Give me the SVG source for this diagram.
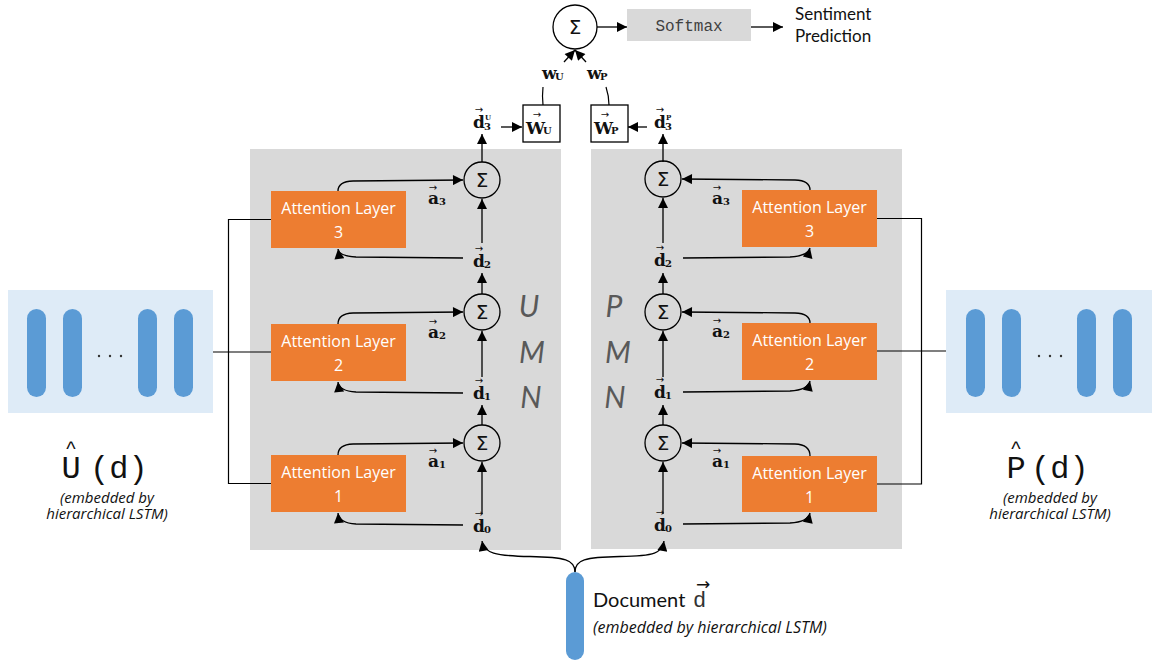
<svg xmlns="http://www.w3.org/2000/svg" width="1152" height="662" viewBox="0 0 1152 662">
  <style>
    .panel { fill: #D9D9D9; }
    .emb { fill: #DEEBF7; }
    .bar { fill: #5B9BD5; }
    .al { fill: #ED7D31; }
    .alt { fill: #FFFFFF; font-family: "Open Sans", Lato, sans-serif; font-size: 16px; text-anchor: middle; }
    .sig { fill: none; stroke: #000; stroke-width: 1.3; }
    .sigt { font-family: "DejaVu Sans", sans-serif; font-size: 20px; text-anchor: middle; fill: #111; }
    .v { font-family: "DejaVu Serif", serif; font-weight: bold; font-size: 17px; fill: #111; }
    .sub { font-family: "DejaVu Serif", serif; font-weight: bold; font-size: 10px; fill: #111; }
    .tiny { font-family: "DejaVu Serif", serif; font-weight: bold; font-size: 7px; fill: #111; }
    .vec { font-family: "DejaVu Sans", sans-serif; font-size: 10px; text-anchor: middle; fill: #111; }
    .cn { fill: none; stroke: #000; stroke-width: 1.3; }
    .ar { marker-end: url(#ah); }
    .ln { fill: none; stroke: #000; stroke-width: 1.2; }
    .mem { font-family: Lato, "Open Sans", sans-serif; font-style: italic; font-size: 30px; fill: #595959; text-anchor: middle; }
    .note { font-family: "Open Sans", Lato, sans-serif; font-style: italic; font-size: 15px; fill: #111; text-anchor: middle; }
    .big { font-family: "Liberation Mono", monospace; font-size: 32px; fill: #111; }
    .hat { font-family: "Liberation Sans", sans-serif; font-size: 20px; fill: #111; text-anchor: middle; }
    .box { fill: #FFFFFF; stroke: #000; stroke-width: 1.3; }
  </style>
  <defs>
    <marker id="ah" viewBox="0 0 10 10" refX="10" refY="5" markerUnits="userSpaceOnUse" markerWidth="11" markerHeight="10" orient="auto">
      <path d="M0,0 L10,5 L0,10 z" fill="#000"/>
    </marker>
  </defs>

  <rect width="1152" height="662" fill="#FFFFFF"/>

  <!-- memory network panels -->
  <g id="umn-panel">
    <rect class="panel" x="250" y="149" width="311" height="401"/>
    <text class="mem" x="529" y="317">U</text>
    <text class="mem" x="532" y="363">M</text>
    <text class="mem" x="531" y="408">N</text>
  </g>
  <g id="pmn-panel">
    <rect class="panel" x="591" y="149" width="311" height="400"/>
    <text class="mem" x="614" y="317">P</text>
    <text class="mem" x="618" y="363">M</text>
    <text class="mem" x="615" y="408">N</text>
  </g>

  <!-- connectors -->
  <g id="connectors">
    <!-- user embedding to left attention layers -->
    <path class="ln" d="M213,352 L271,352" stroke-width="1.6"/>
    <path class="ln" d="M271,219.5 L228.5,219.5 L228.5,483.5 L271,483.5"/>
    <!-- product embedding to right attention layers -->
    <path class="ln" d="M877,351 L946,351" stroke-width="1.6"/>
    <path class="ln" d="M877,218.5 L921.5,218.5 L921.5,484 L877,484"/>

    <!-- left hops -->
    <path class="cn ar" d="M338,191 Q338,181.5 353,181 L463,180"/>
    <path class="cn ar" d="M463,258 L356,257 Q339,256 338,249"/>
    <path class="cn ar" d="M482,243 L482,199"/>
    <path class="cn ar" d="M482,294 L482,273"/>
    <path class="cn ar" d="M338,324 Q338,313.5 353,313 L463,312"/>
    <path class="cn ar" d="M463,393 L356,392 Q339,391 338,382"/>
    <path class="cn ar" d="M482,377 L482,331"/>
    <path class="cn ar" d="M482,425 L482,405"/>
    <path class="cn ar" d="M338,455 Q338,444.5 353,444 L463,443"/>
    <path class="cn ar" d="M463,525 L356,524 Q339,523 338,513"/>
    <path class="cn ar" d="M482,514 L482,462"/>
    <path class="cn ar" d="M482,162 L482,134"/>

    <!-- right hops -->
    <path class="cn ar" d="M810,190 Q810,180.5 795,180 L682,179"/>
    <path class="cn ar" d="M683,258 L790,257 Q808,256 810,248"/>
    <path class="cn ar" d="M663,243 L663,198"/>
    <path class="cn ar" d="M663,294 L663,273"/>
    <path class="cn ar" d="M810,323 Q810,313.5 795,313 L682,312"/>
    <path class="cn ar" d="M683,392 L790,391 Q808,390 810,381"/>
    <path class="cn ar" d="M663,377 L663,331"/>
    <path class="cn ar" d="M663,425 L663,405"/>
    <path class="cn ar" d="M810,456 Q810,444.5 795,444 L682,443"/>
    <path class="cn ar" d="M683,524 L790,523 Q808,522 810,513"/>
    <path class="cn ar" d="M663,514 L663,462"/>
    <path class="cn ar" d="M663,162 L663,134"/>

    <!-- final memory vectors into weight boxes -->
    <path class="cn ar" d="M501,127 L522,127"/>
    <path class="cn ar" d="M647,127 L628,127"/>

    <!-- weights into output sum -->
    <path class="ln" d="M543,105 Q542,96 543,87"/>
    <path class="ln" d="M609,105 Q609,96 606,87"/>
    <path class="cn ar" d="M564,62 L575,50"/>
    <path class="cn ar" d="M586,62 L575,50"/>
    <path class="cn ar" d="M597,27 L627,27"/>
    <path class="cn ar" d="M751,27 L783,27"/>

    <!-- document vector into both networks -->
    <path class="cn ar" d="M575,572 C575,560 565,557 530,556.5 C495,556 484,553 482,541"/>
    <path class="cn ar" d="M575,572 C575,560 585,557 620,556.5 C655,556 662,553 664,541"/>
  </g>

  <!-- left attention layers -->
  <g id="u-att3"><rect class="al" x="271" y="191" width="135" height="57"/><text class="alt" x="338.5" y="214">Attention Layer</text><text class="alt" x="338.5" y="238">3</text></g>
  <g id="u-att2"><rect class="al" x="271" y="324" width="135" height="57"/><text class="alt" x="338.5" y="347">Attention Layer</text><text class="alt" x="338.5" y="371">2</text></g>
  <g id="u-att1"><rect class="al" x="271" y="455" width="135" height="57"/><text class="alt" x="338.5" y="478">Attention Layer</text><text class="alt" x="338.5" y="502">1</text></g>

  <!-- right attention layers -->
  <g id="p-att3"><rect class="al" x="742" y="190" width="135" height="57"/><text class="alt" x="809.5" y="213">Attention Layer</text><text class="alt" x="809.5" y="237">3</text></g>
  <g id="p-att2"><rect class="al" x="742" y="323" width="135" height="57"/><text class="alt" x="809.5" y="346">Attention Layer</text><text class="alt" x="809.5" y="370">2</text></g>
  <g id="p-att1"><rect class="al" x="742" y="456" width="135" height="56"/><text class="alt" x="809.5" y="479">Attention Layer</text><text class="alt" x="809.5" y="503">1</text></g>

  <!-- summation nodes -->
  <g id="u-sum3"><circle class="sig" cx="482" cy="180" r="18"/><text class="sigt" x="482" y="187">Σ</text></g>
  <g id="u-sum2"><circle class="sig" cx="482" cy="312" r="18"/><text class="sigt" x="482" y="319">Σ</text></g>
  <g id="u-sum1"><circle class="sig" cx="482" cy="443" r="18"/><text class="sigt" x="482" y="450">Σ</text></g>
  <g id="p-sum3"><circle class="sig" cx="663" cy="179" r="18"/><text class="sigt" x="663" y="186">Σ</text></g>
  <g id="p-sum2"><circle class="sig" cx="663" cy="312" r="18"/><text class="sigt" x="663" y="319">Σ</text></g>
  <g id="p-sum1"><circle class="sig" cx="663" cy="443" r="18"/><text class="sigt" x="663" y="450">Σ</text></g>

  <!-- left memory states -->
  <g id="u-d2"><text class="vec" x="479" y="252">→</text><text class="v" x="473" y="267">d</text><text class="sub" x="484" y="268">2</text></g>
  <g id="u-d1"><text class="vec" x="479" y="384">→</text><text class="v" x="473" y="399">d</text><text class="sub" x="484" y="400">1</text></g>
  <g id="u-d0"><text class="vec" x="479" y="517">→</text><text class="v" x="473" y="532">d</text><text class="sub" x="484" y="533">0</text></g>
  <g id="u-d3"><text class="vec" x="479" y="113">→</text><text class="v" x="473" y="128">d</text><text class="tiny" x="485" y="120">U</text><text class="sub" x="484" y="130">3</text></g>

  <!-- right memory states -->
  <g id="p-d2"><text class="vec" x="660" y="251">→</text><text class="v" x="654" y="266">d</text><text class="sub" x="665" y="267">2</text></g>
  <g id="p-d1"><text class="vec" x="660" y="383">→</text><text class="v" x="654" y="398">d</text><text class="sub" x="665" y="399">1</text></g>
  <g id="p-d0"><text class="vec" x="660" y="516">→</text><text class="v" x="654" y="531">d</text><text class="sub" x="665" y="532">0</text></g>
  <g id="p-d3"><text class="vec" x="660" y="113">→</text><text class="v" x="654" y="128">d</text><text class="tiny" x="666" y="120">P</text><text class="sub" x="665" y="130">3</text></g>

  <!-- attention outputs -->
  <g id="u-a3"><text class="vec" x="433" y="191">→</text><text class="v" x="428" y="204">a</text><text class="sub" x="439" y="205">3</text></g>
  <g id="u-a2"><text class="vec" x="433" y="325">→</text><text class="v" x="428" y="338">a</text><text class="sub" x="439" y="339">2</text></g>
  <g id="u-a1"><text class="vec" x="433" y="454">→</text><text class="v" x="428" y="467">a</text><text class="sub" x="439" y="468">1</text></g>
  <g id="p-a3"><text class="vec" x="717" y="191">→</text><text class="v" x="712" y="204">a</text><text class="sub" x="723" y="205">3</text></g>
  <g id="p-a2"><text class="vec" x="717" y="324">→</text><text class="v" x="712" y="337">a</text><text class="sub" x="723" y="338">2</text></g>
  <g id="p-a1"><text class="vec" x="717" y="454">→</text><text class="v" x="712" y="467">a</text><text class="sub" x="723" y="468">1</text></g>

  <!-- weight boxes -->
  <g id="w-u"><rect class="box" x="523" y="105" width="37" height="37"/><text class="vec" x="537" y="118">→</text><text class="v" x="526" y="134">W</text><text class="sub" x="543" y="134">U</text></g>
  <g id="w-p"><rect class="box" x="591" y="105" width="37" height="37"/><text class="vec" x="605" y="118">→</text><text class="v" x="594" y="134">W</text><text class="sub" x="611" y="134">P</text></g>
  <g id="w-u-label"><text class="v" x="542" y="79" font-size="15">w</text><text class="sub" x="555" y="80" font-size="9">U</text></g>
  <g id="w-p-label"><text class="v" x="587" y="79" font-size="15">w</text><text class="sub" x="600" y="80" font-size="9">P</text></g>

  <!-- output -->
  <g id="out-sum"><circle cx="575" cy="27" r="22" fill="#FFFFFF" stroke="#000" stroke-width="1.3"/><text class="sigt" x="575" y="34" font-size="21">Σ</text></g>
  <g id="softmax"><rect class="panel" x="627" y="9" width="124" height="32"/><text x="689" y="31" font-family="Liberation Mono, monospace" font-size="16" fill="#404040" text-anchor="middle">Softmax</text></g>
  <g id="prediction"><text x="795" y="20" font-family="Lato, sans-serif" font-size="17" fill="#111">Sentiment</text><text x="795" y="42" font-family="Lato, sans-serif" font-size="17" fill="#111">Prediction</text></g>

  <!-- user embeddings -->
  <g id="user-emb">
    <rect class="emb" x="8" y="290" width="205" height="123"/>
    <rect class="bar" x="27" y="309" width="19" height="88" rx="9.5"/>
    <rect class="bar" x="63" y="309" width="19" height="88" rx="9.5"/>
    <rect class="bar" x="138" y="309" width="19" height="88" rx="9.5"/>
    <rect class="bar" x="174" y="309" width="19" height="88" rx="9.5"/>
    <circle cx="99" cy="356" r="1.2" fill="#333"/><circle cx="110" cy="356" r="1.2" fill="#333"/><circle cx="121" cy="356" r="1.2" fill="#333"/>
    <text class="hat" x="71" y="456">^</text>
    <text class="big" x="71" y="478" text-anchor="middle">U</text>
    <text class="big" x="90" y="478">(d)</text>
    <text class="note" x="107" y="503">(embedded by</text>
    <text class="note" x="107" y="519">hierarchical LSTM)</text>
  </g>

  <!-- product embeddings -->
  <g id="product-emb">
    <rect class="emb" x="946" y="290" width="206" height="123"/>
    <rect class="bar" x="966" y="309" width="19" height="88" rx="9.5"/>
    <rect class="bar" x="1002" y="309" width="19" height="88" rx="9.5"/>
    <rect class="bar" x="1077" y="309" width="19" height="88" rx="9.5"/>
    <rect class="bar" x="1113" y="309" width="19" height="88" rx="9.5"/>
    <circle cx="1039" cy="356" r="1.2" fill="#333"/><circle cx="1050" cy="356" r="1.2" fill="#333"/><circle cx="1061" cy="356" r="1.2" fill="#333"/>
    <text class="hat" x="1016" y="456">^</text>
    <text class="big" x="1016" y="478" text-anchor="middle">P</text>
    <text class="big" x="1031" y="478">(d)</text>
    <text class="note" x="1050" y="503">(embedded by</text>
    <text class="note" x="1050" y="519">hierarchical LSTM)</text>
  </g>

  <!-- document vector -->
  <g id="document">
    <rect class="bar" x="566" y="572" width="18" height="88" rx="9"/>
    <text x="593" y="607" font-family="Lato, sans-serif" font-size="20" fill="#111">Document</text>
    <text x="703" y="590" font-family="DejaVu Sans, sans-serif" font-size="17" fill="#111" text-anchor="middle">→</text>
    <text x="693" y="607" font-family="Liberation Mono, monospace" font-size="22" fill="#333">d</text>
    <text x="593" y="633" font-family="Open Sans, Lato, sans-serif" font-style="italic" font-size="16" fill="#111">(embedded by hierarchical LSTM)</text>
  </g>
</svg>
